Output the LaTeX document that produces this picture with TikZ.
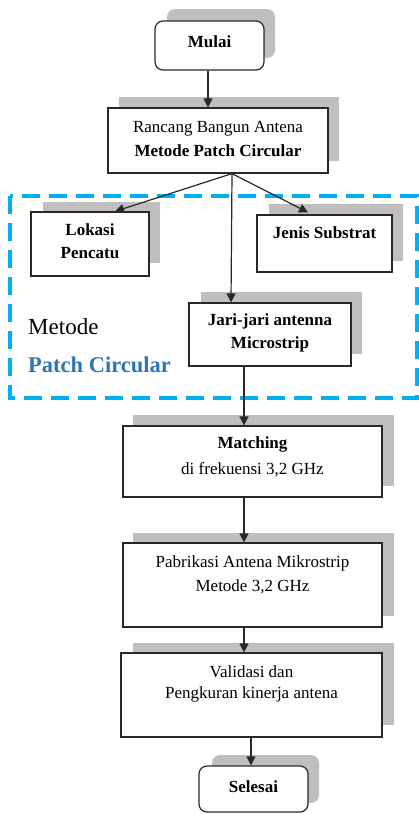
\documentclass[tikz,border=0pt]{standalone}
\usepackage{fontspec}
\setmainfont{Liberation Serif}
\usetikzlibrary{arrows.meta,calc}
\definecolor{shadowgray}{RGB}{191,191,191}
\definecolor{dashblue}{RGB}{0,176,240}
\definecolor{titleblue}{RGB}{46,117,182}
\definecolor{linegray}{RGB}{40,40,40}
\begin{document}
\begin{tikzpicture}[x=1pt,y=-1pt,
  boxstyle/.style={draw=linegray, line width=1.2pt, fill=white, inner sep=0pt},
  shadowbox/.style={fill=shadowgray},
  txt/.style={anchor=base, inner sep=0pt, font=\fontsize{17}{20}\selectfont},
  txtb/.style={anchor=base, inner sep=0pt, font=\fontsize{17}{20}\selectfont\bfseries},
  arr/.style={draw=linegray, line width=1.2pt, -{Triangle[length=9pt,width=9pt]}}]
\useasboundingbox (0,0) rectangle (419,814);

% dashed group frame
\draw[dashblue, line width=3.5pt, dash pattern=on 18pt off 9pt] (10,196) rectangle (417,398);
\node[anchor=base west, inner sep=0pt, font=\fontsize{23}{26}\selectfont] (lblA) at (28,334.5) {Metode};
\node[anchor=base west, inner sep=0pt, text=titleblue, font=\fontsize{22.5}{26}\selectfont\bfseries] (lblB) at (28,372.5) {Patch Circular};

% shadows
\fill[shadowgray, rounded corners=8pt] (167,9) rectangle (275,58);
\fill[shadowgray] (119,97) rectangle (339,161);
\fill[shadowgray] (43,202) rectangle (160,263);
\fill[shadowgray] (269,204) rectangle (403,261);
\fill[shadowgray] (201,292) rectangle (362,354);
\fill[shadowgray] (133,415) rectangle (394,486);
\fill[shadowgray] (133,533) rectangle (394,616);
\fill[shadowgray] (133,643) rectangle (394,725);
\fill[shadowgray, rounded corners=8pt] (212,755) rectangle (319,803);

% boxes
\node[boxstyle, rounded corners=8pt, minimum width=109pt, minimum height=49pt] (mulai) at (209.5,45.5) {};
\node[boxstyle, minimum width=220pt, minimum height=65pt] (rancang) at (218,140.5) {};
\node[boxstyle, minimum width=118pt, minimum height=64pt] (lokasi) at (90,244) {};
\node[boxstyle, minimum width=135pt, minimum height=57pt] (jenis) at (324.5,243.5) {};
\node[boxstyle, minimum width=162pt, minimum height=63pt] (jari) at (270,334.5) {};
\node[boxstyle, minimum width=259pt, minimum height=71pt] (matching) at (252.5,461.5) {};
\node[boxstyle, minimum width=259pt, minimum height=84pt] (pabrik) at (252.5,585) {};
\node[boxstyle, minimum width=261pt, minimum height=84pt] (validasi) at (251.5,695) {};
\node[boxstyle, rounded corners=8pt, minimum width=109pt, minimum height=46pt] (selesai) at (253.5,789) {};

% texts
\node[txtb] (tmulai) at (209.5,47.5) {Mulai};
\node[txt] (tran1) at (218,132.5) {Rancang Bangun Antena};
\node[txtb] (tran2) at (218,156.5) {Metode Patch Circular};
\node[txtb] (tlok1) at (90,235.5) {Lokasi};
\node[txtb] (tlok2) at (90,258.5) {Pencatu};
\node[txtb] (tjen) at (324.5,238.5) {Jenis Substrat};
\node[txtb] (tjar1) at (270,325.5) {Jari-jari antenna};
\node[txtb] (tjar2) at (270,348.5) {Microstrip};
\node[txtb] (tmat1) at (252.5,448.5) {Matching};
\node[txt] (tmat2) at (252.5,474.5) {di frekuensi 3,2 GHz};
\node[txt] (tpab1) at (252.5,567.5) {Pabrikasi Antena Mikrostrip};
\node[txt] (tpab2) at (252.5,591.5) {Metode 3,2 GHz};
\node[txt] (tval1) at (251.5,677.5) {Validasi dan};
\node[txt] (tval2) at (251.5,698.5) {Pengkuran kinerja  antena};
\node[txtb] (tsel) at (253.5,792.5) {Selesai};

% connectors
\coordinate (msrc) at ([xshift=-1.5pt]mulai.south);
\draw[arr] (msrc) -- (msrc |- rancang.north);
\coordinate (split) at ([xshift=14pt]rancang.south);
\draw[arr] (split) -- ([xshift=25pt]lokasi.north);
\draw[arr] (split) -- ([xshift=-16.5pt,yshift=2pt]jenis.north);
\draw[arr] (split) -- ([xshift=-39pt]jari.north);
\coordinate (jsrc) at ([xshift=-26pt]jari.south);
\draw[arr] (jsrc) -- (jsrc |- matching.north);
\coordinate (msrc2) at ([xshift=-8.5pt]matching.south);
\draw[arr] (msrc2) -- (msrc2 |- pabrik.north);
\coordinate (psrc) at ([xshift=-8.5pt]pabrik.south);
\draw[arr] (psrc) -- (psrc |- validasi.north);
\coordinate (vsrc) at ([xshift=-0.5pt]validasi.south);
\draw[arr] (vsrc) -- (vsrc |- selesai.north);
\end{tikzpicture}
\end{document}
